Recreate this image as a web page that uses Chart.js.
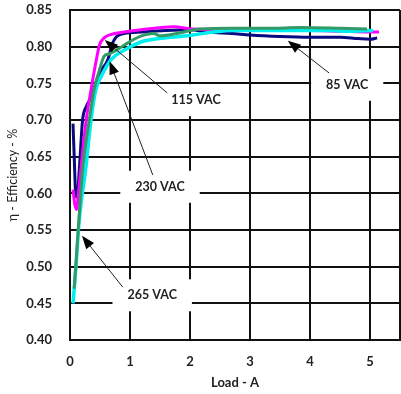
<!DOCTYPE html>
<html>
<head>
<meta charset="utf-8">
<script src="https://cdn.jsdelivr.net/npm/chart.js@4"></script>
<style>
  body { margin: 0; background: #fff; }
</style>
</head>
<body>
<canvas id="chart" width="401" height="394"></canvas>
<script>
// data: load (A) and efficiency
const load85 = [0.05, 0.07, 0.10, 0.12, 0.155, 0.21, 0.27, 0.35, 0.42, 0.49, 0.63, 0.71, 0.78, 0.9, 1.2, 1.6, 2.0, 2.3, 2.7, 3.0, 3.5, 4.0, 4.5, 4.8, 5.0, 5.12];
const eff85 = [0.695, 0.65, 0.595, 0.595, 0.632, 0.70, 0.718, 0.731, 0.748, 0.764, 0.782, 0.805, 0.814, 0.818, 0.82, 0.822, 0.823, 0.82, 0.818, 0.816, 0.814, 0.813, 0.813, 0.811, 0.81, 0.812];

const load115 = [0.05, 0.08, 0.11, 0.14, 0.18, 0.27, 0.35, 0.43, 0.49, 0.57, 0.7, 0.9, 1.28, 1.72, 2.05, 2.5, 3.0, 3.5, 4.0, 4.5, 5.0, 5.15];
const eff115 = [0.605, 0.585, 0.578, 0.60, 0.632, 0.70, 0.741, 0.778, 0.802, 0.812, 0.817, 0.82, 0.824, 0.827, 0.824, 0.823, 0.823, 0.822, 0.822, 0.821, 0.82, 0.82];

const load230 = [0.07, 0.12, 0.17, 0.21, 0.32, 0.40, 0.49, 0.57, 0.65, 0.75, 0.9, 1.17, 1.39, 1.5, 1.78, 2.17, 2.7, 3.3, 3.85, 4.5, 4.95];
const eff230 = [0.47, 0.53, 0.59, 0.632, 0.70, 0.741, 0.768, 0.787, 0.79, 0.794, 0.802, 0.814, 0.818, 0.815, 0.818, 0.824, 0.825, 0.825, 0.826, 0.825, 0.824];

const load265 = [0.05, 0.10, 0.15, 0.19, 0.26, 0.35, 0.43, 0.55, 0.68, 0.9, 1.17, 1.39, 1.72, 2.05, 2.4, 2.72, 3.3, 3.83, 4.3, 4.67, 5.05];
const eff265 = [0.45, 0.50, 0.56, 0.59, 0.632, 0.70, 0.741, 0.764, 0.782, 0.795, 0.806, 0.81, 0.813, 0.816, 0.82, 0.822, 0.822, 0.822, 0.822, 0.821, 0.822];

const xTicks = [0, 1, 2, 3, 4, 5];

// callout labels with arrows (in data units)
const callouts = [
  { text: '115 VAC', at: [2.1, 0.727], from: [1.62, 0.737], to: [0.58, 0.809] },
  { text: '85 VAC', at: [4.62, 0.748], from: [4.32, 0.764], to: [3.63, 0.808] },
  { text: '230 VAC', at: [1.5, 0.609], from: [1.38, 0.625], to: [0.66, 0.780] },
  { text: '265 VAC', at: [1.37, 0.461], from: [0.88, 0.472], to: [0.2, 0.542] }
];

function points(xs, ys) {
  return xs.map((v, i) => ({ x: v, y: ys[i] }));
}

const font = 'Lato';

// draws the white label boxes and the arrows
const calloutPlugin = {
  id: 'callouts',
  afterDatasetsDraw(chart) {
    const ctx = chart.ctx;
    const x = chart.scales.x, y = chart.scales.y;
    ctx.save();
    ctx.font = 'bold 12.5px ' + font;
    callouts.forEach((c) => {
      const lx = x.getPixelForValue(c.at[0]);
      const ly = y.getPixelForValue(c.at[1]);
      const w = ctx.measureText(c.text).width + 30;
      const h = 32;
      ctx.fillStyle = '#fff';
      ctx.fillRect(lx - w / 2, ly - h / 2, w, h);

      const x1 = x.getPixelForValue(c.from[0]), y1 = y.getPixelForValue(c.from[1]);
      const x2 = x.getPixelForValue(c.to[0]), y2 = y.getPixelForValue(c.to[1]);
      const ang = Math.atan2(y2 - y1, x2 - x1);
      const len = 13, half = 5;
      ctx.strokeStyle = '#222';
      ctx.lineWidth = 1;
      ctx.beginPath();
      ctx.moveTo(x1, y1);
      ctx.lineTo(x2 - Math.cos(ang) * len * 0.8, y2 - Math.sin(ang) * len * 0.8);
      ctx.stroke();
      ctx.fillStyle = '#000';
      ctx.beginPath();
      ctx.moveTo(x2, y2);
      ctx.lineTo(x2 - Math.cos(ang) * len - Math.sin(ang) * half, y2 - Math.sin(ang) * len + Math.cos(ang) * half);
      ctx.lineTo(x2 - Math.cos(ang) * len + Math.sin(ang) * half, y2 - Math.sin(ang) * len - Math.cos(ang) * half);
      ctx.closePath();
      ctx.fill();

      ctx.fillStyle = '#222';
      ctx.textAlign = 'center';
      ctx.textBaseline = 'middle';
      ctx.fillText(c.text, lx, ly);
    });
    ctx.restore();
  }
};

const ctx = document.getElementById('chart');
const chart = new Chart(ctx, {
  type: 'scatter',
  data: {
    datasets: [
      { label: '230 VAC', data: points(load230, eff230), borderColor: '#339966', borderWidth: 3 },
      { label: '265 VAC', data: points(load265, eff265), borderColor: '#00eeee', borderWidth: 3.5 },
      { label: '115 VAC', data: points(load115, eff115), borderColor: '#ff00ff', borderWidth: 3 },
      { label: '85 VAC', data: points(load85, eff85), borderColor: '#0a0a80', borderWidth: 3 }
    ]
  },
  options: {
    responsive: false,
    animation: false,
    showLine: true,
    elements: {
      point: { radius: 0 },
      line: { cubicInterpolationMode: 'monotone', fill: false }
    },
    layout: { padding: { top: 10, right: 1, left: 0, bottom: 0 } },
    plugins: {
      legend: { display: false },
      tooltip: { enabled: false }
    },
    scales: {
      x: {
        type: 'linear',
        min: 0,
        max: 5.5,
        afterFit: (s) => { s.height = 54; s.paddingLeft = 0; s.paddingRight = 0; },
        afterBuildTicks: (s) => { s.ticks = xTicks.concat([5.5]).map((v) => ({ value: v })); },
        grid: { color: '#111', lineWidth: 2, drawTicks: false },
        border: { color: '#111', width: 2 },
        ticks: {
          autoSkip: false,
          maxRotation: 0,
          padding: 14,
          color: '#222',
          font: { family: font, size: 13, weight: 'bold' },
          callback: (v) => (xTicks.includes(v) ? String(v) : '')
        },
        title: {
          display: true,
          text: 'Load - A',
          color: '#222',
          font: { family: font, size: 13, weight: 'bold' },
          padding: { top: 0, bottom: 3 }
        }
      },
      y: {
        min: 0.4,
        max: 0.85,
        afterFit: (s) => { s.width = 70; s.paddingTop = 0; s.paddingBottom = 0; },
        grid: { color: '#111', lineWidth: 2, drawTicks: false },
        border: { color: '#111', width: 2 },
        ticks: {
          stepSize: 0.05,
          padding: 18,
          color: '#222',
          font: { family: font, size: 13, weight: 'bold' },
          callback: (v) => v.toFixed(2)
        },
        title: {
          display: true,
          text: 'η - Efficiency - %',
          color: '#222',
          font: { family: font, size: 12.5 },
          padding: { top: 5, bottom: 0 }
        }
      }
    }
  },
  plugins: [calloutPlugin]
});
</script>
</body>
</html>
